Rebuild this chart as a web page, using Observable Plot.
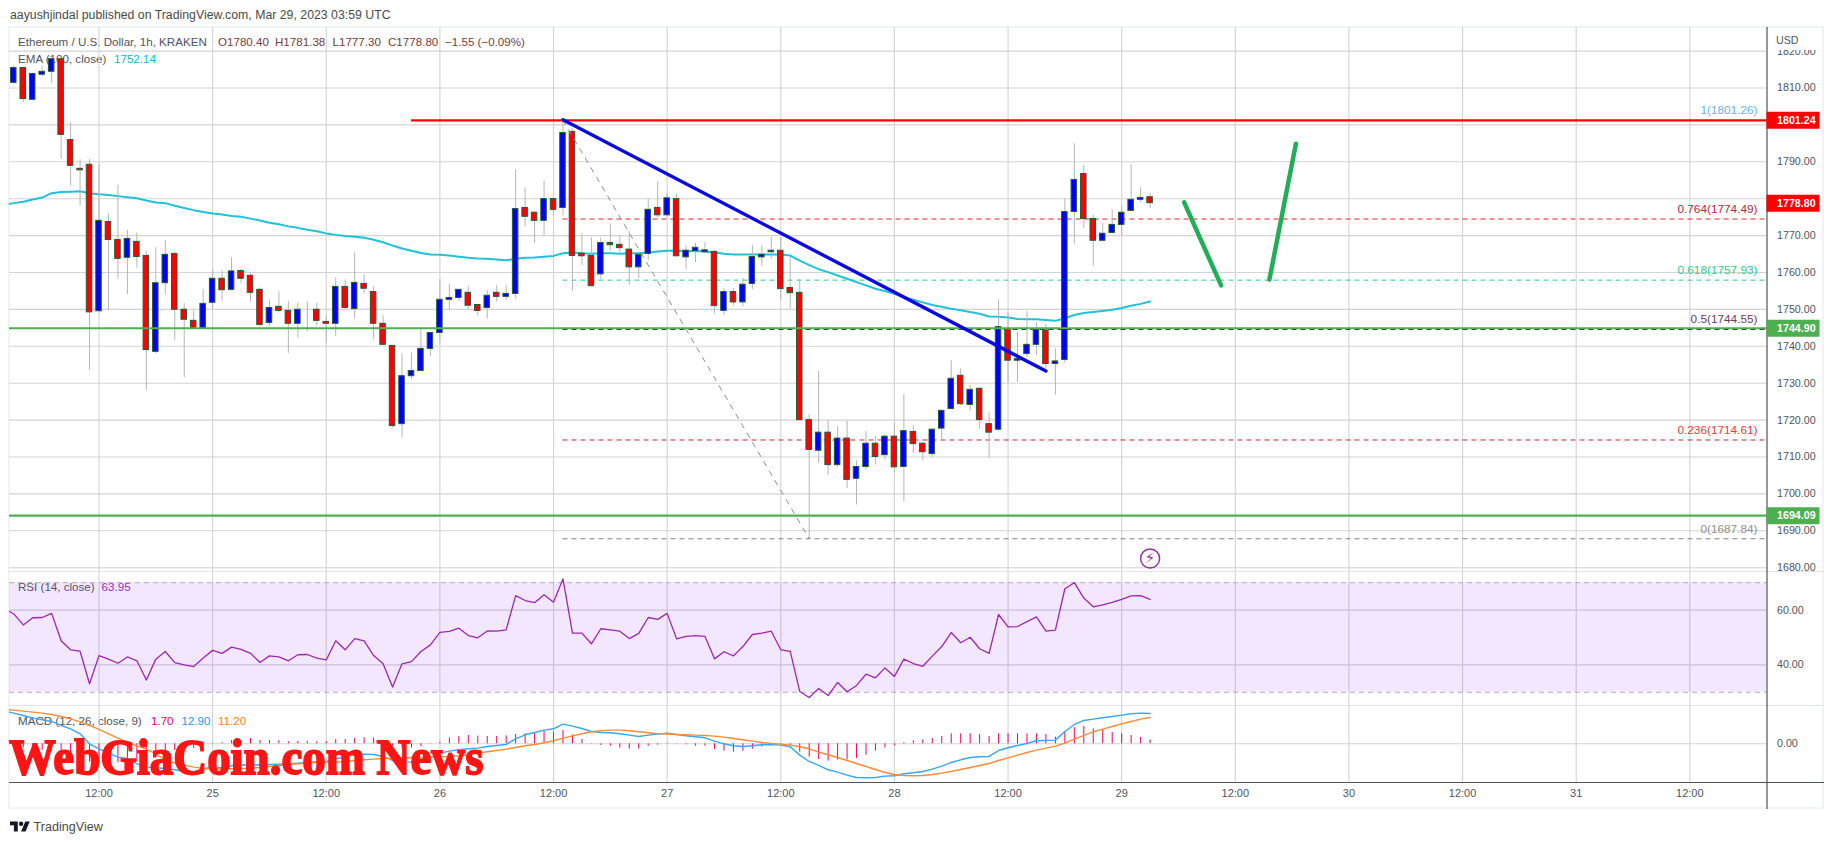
<!DOCTYPE html>
<html><head><meta charset="utf-8">
<script src="https://cdn.jsdelivr.net/npm/d3@7"></script>
<script src="https://cdn.jsdelivr.net/npm/@observablehq/plot@0.6"></script>
<style>
html,body{margin:0;padding:0;background:#fff;width:1834px;height:845px;overflow:hidden}
#page{position:absolute;left:0;top:0;width:1834px;height:845px;font-family:"Liberation Sans",sans-serif;color:#50535e}
#frame{position:absolute;left:8px;top:26px;width:1812px;height:779px;border:2px solid #f0f3fa}
.t{position:absolute;white-space:pre;font-size:11.6px;line-height:16px;transform:translateY(-50%)}
svg{position:absolute;left:0;overflow:visible}
</style></head><body><div id="page"><div id="frame"></div></div>
<script>
const hours = [-9,-8,-7,-6,-5,-4,-3,-2,-1,0,1,2,3,4,5,6,7,8,9,10,11,12,13,14,15,16,17,18,19,20,21,22,23,24,25,26,27,28,29,30,31,32,33,34,35,36,37,38,39,40,41,42,43,44,45,46,47,48,49,50,51,52,53,54,55,56,57,58,59,60,61,62,63,64,65,66,67,68,69,70,71,72,73,74,75,76,77,78,79,80,81,82,83,84,85,86,87,88,89,90,91,92,93,94,95,96,97,98,99,100,101,102,103,104,105,106,107,108,109,110,111];
const opens = [1811.4,1815.4,1806.8,1813.6,1814.4,1817.8,1795.9,1788.1,1789.2,1749.5,1773.7,1768.8,1764,1768.3,1764.5,1738.5,1757.1,1765,1749.9,1746.9,1744.7,1751.8,1758.3,1755.3,1760.4,1759.1,1755.3,1746.3,1750.7,1749.6,1746.1,1749.9,1749.9,1746.6,1746.1,1756.1,1750.1,1756.9,1754.7,1746.1,1740.1,1718.9,1731.9,1733.3,1739.3,1743.6,1752.6,1753.1,1754.5,1751.2,1750.4,1754.5,1753.4,1754.2,1777.5,1776.2,1774,1779.9,1777.5,1798.1,1765.1,1764.5,1759.5,1768,1767.5,1766.2,1761.4,1765,1777.5,1775.5,1779.9,1764.1,1765.8,1765.5,1765.6,1749.6,1754.7,1751.9,1756.9,1764.1,1765.5,1765.9,1755.8,1754.5,1720,1711.7,1716.6,1707.8,1715,1704.1,1707.3,1713.6,1710.5,1715.5,1707.3,1716.8,1713.6,1710.8,1717.7,1723,1732,1724.1,1728.5,1718.9,1717.4,1744.7,1736.1,1737.9,1740.4,1744.3,1735.2,1736.3,1776.4,1786.7,1774.5,1768.6,1770.7,1772.9,1776.7,1779.7,1780.4];
const highs = [1816,1815.6,1814,1815.9,1818,1818,1800.6,1790.6,1790.6,1789.4,1775.9,1783.6,1771.4,1770.7,1765.8,1766.7,1768.7,1765.5,1751.6,1749.7,1755.4,1760.7,1760.5,1764,1761,1759.9,1755.8,1752.6,1754.8,1752.1,1751.8,1752.1,1751.6,1748,1758.5,1758,1765.3,1759.4,1756.2,1748.3,1740.2,1737.9,1738.2,1744.9,1743.8,1758,1756.7,1755.5,1756.2,1751.3,1755.1,1756.5,1756.5,1787.9,1783,1776.4,1784.8,1780.1,1801.6,1798.9,1770.5,1769.4,1769.4,1773.2,1770,1771.1,1765.3,1779.9,1784.6,1781.3,1781.3,1767.3,1767.9,1768.1,1765.8,1755.6,1755.6,1758.4,1767.3,1767.3,1769.6,1769.5,1764.1,1758.1,1721.4,1733.2,1719.9,1718.3,1719.7,1709,1716.9,1715.6,1716,1719.2,1726.9,1718.5,1714,1717.6,1722.7,1736.1,1733.9,1729.4,1728.7,1722,1752.6,1749.2,1743.8,1749.4,1746.4,1746,1739.3,1779.9,1794.9,1789,1775.6,1773.3,1777,1777.9,1789.2,1783,1781.38];
const lows = [1811,1806.1,1806.6,1813.1,1811.3,1790.7,1783.4,1778,1733.5,1749,1749.7,1758.2,1754,1761.2,1728.1,1738,1754,1741.6,1731.5,1744.5,1744.5,1750,1752.2,1755,1757,1752,1745.3,1745.4,1749,1738.1,1742.2,1744,1745.4,1740.9,1742.7,1750,1747.4,1754.2,1741.8,1740.2,1717.8,1715.1,1731,1733.2,1737.3,1740.9,1749.9,1752.2,1749.9,1748.3,1747.4,1752,1752.4,1752.8,1772.4,1767.9,1770,1775.4,1775.4,1754.9,1761.9,1756.1,1758.1,1765.8,1765.3,1756.6,1758.4,1763.2,1774.8,1775,1764.2,1760.8,1762.7,1765.3,1748.8,1748.3,1750.9,1750.6,1755.4,1761.6,1763.6,1752.6,1750.1,1719.8,1687.84,1708.3,1705,1707.3,1701.5,1697,1706.4,1707.8,1709.2,1705.7,1697.8,1711,1708.9,1709.8,1714.6,1722.8,1724,1722.4,1717.5,1709.7,1717,1730,1730.2,1737,1737.5,1733.9,1726.7,1735.4,1767.7,1772,1761.7,1768.3,1770.5,1770,1776.5,1778.9,1777.3];
const closes = [1815.4,1807,1813.8,1814.4,1817.8,1797.3,1788.9,1787.7,1749.2,1774,1768.8,1763.7,1769.1,1764.2,1739,1757.1,1764.8,1749.9,1747.2,1744.7,1751.5,1758.3,1755.2,1760.3,1758.3,1754.5,1745.8,1750.4,1749.6,1746.1,1749.9,1749.9,1746.9,1746.1,1756.1,1750.4,1757.2,1755.6,1746.1,1740.4,1718.4,1731.9,1733.3,1739.3,1743.6,1752.6,1753.1,1755.3,1751,1749.6,1753.7,1753.4,1754.2,1777.2,1775.1,1774,1779.9,1777,1797.8,1764.5,1764.4,1756.3,1768,1767.4,1766.6,1761.4,1764.8,1777,1775.5,1780.1,1764.4,1765.9,1766.7,1766,1750.9,1754.7,1751.9,1756.7,1764.2,1764.8,1765.9,1755.5,1754.4,1720,1711.9,1716.6,1707.8,1715,1703.8,1707.3,1713.6,1710,1715.5,1707.2,1717,1713.5,1711.3,1717.4,1722.5,1731.2,1724.3,1728.2,1720,1716.6,1745.2,1736.1,1736.5,1740.4,1744.5,1735.2,1735.9,1776.4,1785.1,1774.5,1768.6,1770.5,1772.9,1776.2,1779.7,1780.2,1778.8];
const ema100 = [1778.8,1779.2,1779.8,1780.3,1781.5,1781.8,1781.9,1782,1781.5,1781.2,1781,1780.7,1780.4,1780.1,1779.5,1779,1778.8,1778.1,1777.5,1776.9,1776.4,1776,1775.7,1775.3,1775.1,1774.6,1774.1,1773.5,1773.1,1772.5,1772.1,1771.6,1771.2,1770.6,1770.2,1769.9,1769.7,1769.4,1768.9,1768.2,1767.3,1766.5,1765.9,1765.3,1764.9,1764.8,1764.6,1764.3,1764,1763.8,1763.7,1763.5,1763.3,1763.7,1764,1764.1,1764.3,1764.5,1765.2,1765.4,1765.2,1765.1,1765.2,1765.2,1765.1,1765.2,1765.2,1765.4,1765.7,1765.9,1765.9,1765.8,1765.8,1765.7,1765.4,1765.1,1764.9,1764.9,1764.9,1764.9,1764.9,1764.9,1764.6,1763.2,1762,1760.9,1760.1,1759.2,1758.3,1757.4,1756.5,1755.6,1755,1754.2,1753.3,1752.6,1751.9,1751.2,1750.7,1750.2,1749.8,1749.3,1748.8,1748.1,1748,1747.8,1747.4,1747.3,1747.3,1747.1,1746.9,1747.6,1748.5,1749,1749.3,1749.6,1749.9,1750.4,1751,1751.5,1752.14];
const rsi14 = [58.6,54.6,57.2,57.3,58.8,48.8,45.5,45,33.1,43.4,42.1,40.6,42.9,41.5,34.5,42.1,44.9,40.8,40,39.4,42.5,45.3,44.2,46.5,45.7,44.2,40.9,43.3,42.9,41.5,43.7,43.8,42.5,41.8,48.8,45.5,49.6,48.8,43.4,40.4,31.9,40.4,41.2,44.9,47.3,51.9,52.2,53.4,50.7,49.9,52.4,52.3,52.8,65.3,63.5,62.7,65.6,62.9,71.4,51.6,51.6,47.7,53.2,52.8,52.3,49.6,51.5,57.3,56.6,58.8,49.5,50.4,50.7,50.4,42.2,44.8,43.3,46.7,51.1,51.6,52.3,45.5,44.9,30.3,28.1,31.4,28.8,33.6,30.2,32.5,36.6,35.3,38.9,35.8,42.1,40.5,39.5,43.2,46.7,51.8,48.1,50.1,45.9,44.2,58.4,53.9,54,55.8,57.5,52.3,52.7,67.8,70,64.4,61.2,61.9,62.8,63.9,65.2,65.3,63.95];
const macdLine = [13.05,12.06,11.06,10.21,9.5,7.8,6.38,4.26,0,-2.13,-3.97,-5.67,-6.24,-8.51,-9.93,-10.21,-10.5,-11.06,-11.63,-11.91,-10.64,-9.93,-10.21,-9.36,-8.94,-9.08,-8.94,-8.79,-8.65,-8.51,-8.23,-7.94,-7.66,-7.52,-6.38,-5.67,-4.68,-4.4,-4.54,-5.39,-7.09,-7.8,-7.8,-7.09,-5.67,-3.97,-3.12,-2.55,-2.13,-1.84,-1.13,-0.71,-0.28,2.13,3.83,4.82,5.82,6.38,8.37,7.52,6.52,5.25,4.82,4.68,4.26,3.69,3.12,3.69,4.11,4.54,3.97,3.4,2.98,2.55,1.13,0,-0.85,-1.13,-0.85,-0.43,-0.28,-0.57,-1.28,-4.82,-7.52,-9.22,-11.06,-12.06,-13.33,-14.33,-14.47,-14.33,-13.76,-13.62,-12.77,-12.34,-11.77,-10.78,-9.5,-7.94,-6.81,-5.82,-5.53,-5.39,-2.84,-1.7,-0.71,0.14,1.28,1.42,1.56,5.25,8.23,9.93,10.5,11.06,11.63,12.2,12.77,13.05,12.9];
const signalLine = [14.33,13.9,13.48,13.05,12.48,11.63,10.64,9.36,7.8,6.1,4.26,2.41,0.71,-0.85,-2.27,-4.26,-6.81,-8.23,-9.08,-9.93,-10.5,-10.78,-10.64,-10.64,-10.5,-10.35,-10.07,-9.65,-9.22,-8.79,-8.51,-8.23,-7.94,-7.8,-7.8,-7.52,-7.09,-6.81,-6.52,-6.24,-6.1,-5.96,-5.96,-5.82,-5.67,-5.53,-5.39,-5.11,-4.68,-3.97,-3.4,-2.84,-2.27,-1.56,-0.85,-0.28,0.43,1.28,2.41,3.4,4.26,5.11,5.53,5.82,5.82,5.53,5.11,4.68,4.26,4.11,3.97,3.83,3.69,3.55,3.26,2.84,2.27,1.7,1.13,0.57,0.14,-0.14,-0.57,-1.28,-2.13,-3.55,-4.68,-5.82,-7.09,-8.37,-9.65,-10.92,-12.2,-13.05,-13.48,-13.62,-13.48,-13.05,-12.48,-11.77,-10.92,-10.07,-9.22,-8.37,-7.09,-5.96,-4.82,-3.69,-2.7,-1.84,-0.99,0.28,1.99,3.55,5.11,6.24,7.38,8.51,9.5,10.5,11.2];
const macdHist = [-1.28,-1.84,-2.42,-2.84,-2.98,-3.83,-4.26,-5.1,-7.8,-8.23,-8.23,-8.08,-6.95,-7.66,-7.66,-5.95,-3.69,-2.83,-2.55,-1.98,-0.14,0.3,0.5,1.4,1.4,2.27,1.4,1.4,1.3,0.85,1,1,0.85,0.85,1.84,1.84,2.27,2.55,2.41,0.85,-1,-1.84,-1.84,-1.27,0.14,0.7,2.41,3.1,3.55,3.26,3.12,3.12,3.4,3.97,4.26,4.82,5.25,4.96,5.67,3.69,1.84,0.14,-0.71,-1,-1.84,-2.27,-2.27,-1,-0.57,0.28,-0.14,-0.43,-1,-1,-2.41,-3.12,-3.55,-3.12,-2.27,-1.42,-0.43,-0.28,-0.71,-3.55,-5.67,-6.67,-7.38,-6.95,-6.67,-6.24,-4.82,-3.12,-1.84,-0.85,0.43,1.28,1.7,2.27,3.12,4.26,4.26,4.26,3.97,3.12,4.26,4.26,4.26,4.26,4.26,3.97,2.84,4.96,6.81,7.38,6.38,5.67,4.82,4.26,3.55,2.7,1.7];
// line values just before the first full candle, where the lines enter at the chart's left edge
const leadHour = -9.45, emaLead = 1778.6, rsiLead = 59.5, macdLead = 13.5, signalLead = 14.5;

const xTicks = [0,12,24,36,48,60,72,84,96,108,120,132,144,156,168];
const xTickLabels = ["12:00","25","12:00","26","12:00","27","12:00","28","12:00","29","12:00","30","12:00","31","12:00"];
const priceTicks = [1680,1690,1700,1710,1720,1730,1740,1750,1760,1770,1780,1790,1800,1810,1820];
const priceLabels = [1680,1690,1700,1710,1720,1730,1740,1750,1760,1770,1790,1810,1820];
const rsiTicks = [40,60];
const macdTicks = [0];

const fibRatios = ["1","0.764","0.618","0.5","0.236","0"];
const fibPrices = [1801.26,1774.49,1757.93,1744.55,1714.61,1687.84];
const fibLines = ["#64b5e6","#f01e1e","#2ec79a","#3a1a38","#c62828","#808080"];
const fibTexts = ["#64b5e6","#b2283c","#2ecc8f","#6d3a66","#e53935","#909090"];
const tagPrices = [1801.24,1778.80,1744.90,1694.09];
const tagColors = ["#ff0000","#ff0000","#4caf50","#4caf50"];
const xMin = -9.452, xMax = 176.15, tagEnd = 5.6, railEnd = 6.07;
const stroke = "#265a35", gridC = "#d3d3d3", axisC = "#50535e";
const font = '"Liberation Sans",sans-serif';

const candles = hours.map((t,i)=>({t,o:opens[i],h:highs[i],l:lows[i],c:closes[i]}));
const upCandles = candles.filter(d=>d.c>=d.o), downCandles = candles.filter(d=>d.c<d.o);
const series = (a,lead) => [...(lead===undefined?[]:[{t:leadHour,v:lead}]),...hours.map((t,i)=>({t,v:a[i]}))];
const base = (h,mb=0)=>({width:1834,height:h,marginLeft:9,marginRight:67.5,marginTop:0,marginBottom:mb,
  style:{background:"transparent",overflow:"visible",fontFamily:font,fontSize:"11px",color:axisC},
  x:{type:"linear",domain:[xMin,xMax],axis:null}});
const vGrid = Plot.ruleX(xTicks,{stroke:gridC,strokeWidth:1.1});
const hGrid = v => Plot.ruleY(v,{x1:xMin,x2:xMax,stroke:gridC,strokeWidth:1.1});
const rightAxis = v => Plot.axisY(v,{anchor:"right",tickSize:0,tickPadding:10,label:null,tickFormat:d=>d.toFixed(2),fill:axisC,fontSize:10.7});
const rail = Plot.ruleX([xMax],{stroke:axisC,strokeWidth:1.2});

const priceDomain = [1678.97,1826.4];
const main = Plot.plot({...base(544),y:{domain:priceDomain,axis:null},marks:[
  vGrid,hGrid(priceTicks),
  ...fibPrices.slice(1).map((p,i)=>Plot.ruleY([p],{x1:49,x2:xMax,stroke:fibLines[i+1],strokeDasharray:"5,4",strokeWidth:1})),
  Plot.line(series(ema100,emaLead),{x:"t",y:"v",stroke:"#1fc2d8",strokeWidth:2}),
  Plot.ruleX(candles,{x:"t",y1:"l",y2:"h",stroke:"#b5b5b5",strokeWidth:1}),
  Plot.rect(upCandles,{x1:d=>d.t-0.29,x2:d=>d.t+0.29,y1:"o",y2:"c",fill:"#0000ff",stroke,strokeWidth:1}),
  Plot.rect(downCandles,{x1:d=>d.t-0.29,x2:d=>d.t+0.29,y1:"o",y2:"c",fill:"#ff0000",stroke,strokeWidth:1}),
  Plot.ruleY([1744.9,1694.09],{x1:xMin,x2:xMax,stroke:"#4caf50",strokeWidth:2.2}),
  Plot.line([{t:49,v:1801.26},{t:75,v:1687.84}],{x:"t",y:"v",stroke:"#8c8c8c",strokeDasharray:"5,6",strokeWidth:1}),
  Plot.ruleY([1801.24],{x1:33,x2:xMax,stroke:"#ff0000",strokeWidth:2.2}),
  Plot.line([{t:49,v:1801.4},{t:100,v:1733.3}],{x:"t",y:"v",stroke:"#0a0ae0",strokeWidth:3.4,strokeLinecap:"round"}),
  Plot.line([{t:114.6,v:1779},{t:118.5,v:1756.5}],{x:"t",y:"v",stroke:"#22ad57",strokeWidth:4.5,strokeLinecap:"round"}),
  Plot.line([{t:123.6,v:1758.1},{t:126.4,v:1794.9}],{x:"t",y:"v",stroke:"#22ad57",strokeWidth:4.5,strokeLinecap:"round"}),
  ...fibPrices.map((p,i)=>Plot.text([p],{x:xMax,y:d=>d,text:[fibRatios[i]+"("+p.toFixed(2)+")"],textAnchor:"end",dx:-9.5,dy:-10,fill:fibTexts[i],fontSize:11.8})),
  Plot.dot([0],{x:()=>111,y:()=>1682.5,r:9.5,stroke:"#9c27b0",fill:"none",strokeWidth:1.5}),
  Plot.text(["⚡"],{x:()=>111,y:()=>1682.5,fill:"#9c27b0",fontSize:15,fontFamily:"DejaVu Sans"}),
  rightAxis(priceLabels),rail,
  ...tagPrices.map((p,i)=>Plot.ruleY([p],{x1:xMax,x2:xMax+tagEnd,stroke:tagColors[i],strokeWidth:17})),
  ...tagPrices.map((p,i)=>Plot.text([p],{x:xMax,y:d=>d,text:d=>d.toFixed(2),textAnchor:"start",dx:10,fill:"#fff",fontWeight:"bold",fontSize:10.7}))
]});
main.style.top="27px";

const rsiDomain=[25.18,74.09];
const rsi = Plot.plot({...base(134),y:{domain:rsiDomain,axis:null},marks:[
  vGrid,hGrid(rsiTicks),
  Plot.rect([0],{x1:()=>xMin,x2:()=>xMax,y1:()=>30,y2:()=>70,fill:"#a03cff",fillOpacity:0.12}),
  Plot.ruleY([30,70],{x1:xMin,x2:xMax,stroke:"#b8a6c4",strokeDasharray:"5,4",strokeWidth:1}),
  Plot.line(series(rsi14,rsiLead),{x:"t",y:"v",stroke:"#9c27b0",strokeWidth:1.3}),
  rightAxis(rsiTicks),
  Plot.ruleY([rsiDomain[1]],{x1:xMin,x2:xMax+railEnd,stroke:"#e0e3eb",strokeWidth:1.2}),
  rail
]});
rsi.style.top="571px";

const macdDomain=[-16.47,16.3], macdFoot=-28;
const macd = Plot.plot({...base(104,27),y:{domain:macdDomain,axis:null},marks:[
  vGrid,hGrid(macdTicks),
  Plot.ruleX(series(macdHist),{x:"t",y1:()=>0,y2:"v",stroke:"#f50057",strokeWidth:1}),
  Plot.line(series(macdLine,macdLead),{x:"t",y:"v",stroke:"#35a7f5",strokeWidth:1.4}),
  Plot.line(series(signalLine,signalLead),{x:"t",y:"v",stroke:"#ff8a35",strokeWidth:1.4}),
  rightAxis(macdTicks),
  Plot.axisX(xTicks,{anchor:"bottom",tickSize:0,tickPadding:7,label:null,tickFormat:d=>xTickLabels[xTicks.indexOf(d)],fill:axisC,fontSize:11}),
  Plot.ruleY([macdDomain[1]],{x1:xMin,x2:xMax+railEnd,stroke:"#e0e3eb",strokeWidth:1.2}),
  Plot.ruleY([macdDomain[0]],{x1:xMin,x2:xMax+railEnd,stroke:axisC,strokeWidth:1.2}),
  Plot.ruleX([xMax],{y1:()=>macdFoot,y2:()=>macdDomain[1],stroke:axisC,strokeWidth:1.2})
]});
macd.style.top="705px";

const page=document.getElementById("page");
function label(x,y,txt,color,opts={}){
  const d=document.createElement("div");d.className="t";d.textContent=txt;
  d.style.left=x+"px";d.style.top=y+"px";d.style.color=color;d.style.zIndex=opts.z||1;
  if(opts.size)d.style.fontSize=opts.size+"px";
  if(opts.weight)d.style.fontWeight=opts.weight;
  page.appendChild(d);return d;
}
const ink="#50535e", ohlc="#7a3a3a";
label(10,15,"aayushjindal published on TradingView.com, Mar 29, 2023 03:59 UTC","#4a4a4a",{size:12.3});
label(18,42,"Ethereum / U.S. Dollar, 1h, KRAKEN",ink);
label(218,42,"O1780.40",ohlc);label(275,42,"H1781.38",ohlc);label(332.5,42,"L1777.30",ohlc);label(388,42,"C1778.80",ohlc);label(445,42,"−1.55 (−0.09%)",ohlc);
label(18,59,"EMA (100, close)",ink);label(114,59,"1752.14","#00bcd4");
label(18,587,"RSI (14, close)",ink);label(101.6,587,"63.95","#9c27b0");
label(18,721,"MACD (12, 26, close, 9)",ink);label(151,721,"1.70","#f50057");label(181.5,721,"12.90","#2196f3");label(218,721,"11.20","#ff7a1a");
page.append(main,rsi,macd);
[main,rsi,macd].forEach(s=>s.style.zIndex=2);
const usd=label(1776,40,"USD",ink,{z:4,size:10.7});
const usdBg=document.createElement("div");
usdBg.style.cssText="position:absolute;left:1768px;top:28px;width:52px;height:22px;background:#fff;z-index:3";page.appendChild(usdBg);
const wm=label(9,757,"WebGiaCoin.com News","#ff1414",{z:5,size:51,weight:"bold"});
wm.style.fontFamily='"Liberation Serif",serif';wm.style.lineHeight="51px";wm.style.webkitTextStroke="1.8px #ff1414";
wm.style.transform="translateY(-50%) scaleX(0.92)";wm.style.transformOrigin="left center";
const logo=document.createElementNS("http://www.w3.org/2000/svg","svg");
logo.setAttribute("viewBox","0 0 36 28");logo.setAttribute("width","20");logo.setAttribute("height","16");
logo.style.cssText="position:absolute;left:10px;top:819px;fill:#131722";
logo.innerHTML='<path d="M14 22H7V11H0V4h14v18zM28 22h-8l7.5-18h8L28 22z"/><circle cx="20" cy="8" r="4"/>';
page.appendChild(logo);
label(33.5,827,"TradingView","#4a4a4a",{size:12.6});
</script></body></html>
